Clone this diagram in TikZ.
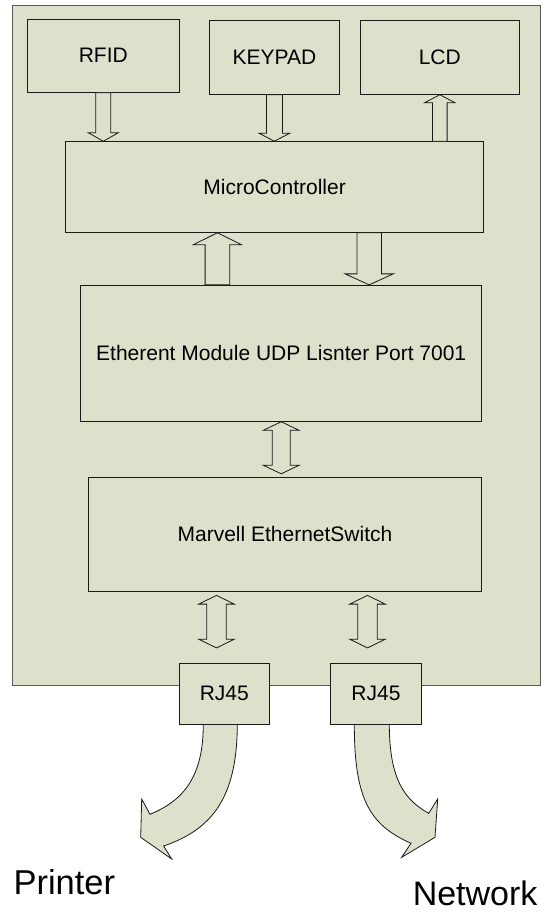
\documentclass[tikz,border=0pt]{standalone}
\usepackage{fontspec}
\setmainfont{Liberation Sans}
\usetikzlibrary{calc}

\definecolor{panel}{RGB}{221,224,203}

\tikzset{
	box/.style={draw=black!90, fill=panel, line width=0.9pt, inner sep=0pt,
		font=\fontsize{21}{25}\selectfont},
	blk/.style={draw=black!90, fill=panel, line width=0.8pt, line join=miter},
	cable/.style={draw=black!90, fill=panel, line width=0.8pt},
}

% 下向き・上向き・両向きの白抜き矢印
\newcommand{\blkdown}[5]{%
	\draw[blk] let \p1=#1, \p2=#2 in
		(\x1-#3,\y1) -- (\x1-#3,\y2+#5) -- (\x1-#4,\y2+#5) -- (\x1,\y2)
		-- (\x1+#4,\y2+#5) -- (\x1+#3,\y2+#5) -- (\x1+#3,\y1) -- cycle;}
\newcommand{\blkup}[5]{%
	\draw[blk] let \p1=#1, \p2=#2 in
		(\x1-#3,\y1) -- (\x1-#3,\y2-#5) -- (\x1-#4,\y2-#5) -- (\x1,\y2)
		-- (\x1+#4,\y2-#5) -- (\x1+#3,\y2-#5) -- (\x1+#3,\y1) -- cycle;}
\newcommand{\blkboth}[5]{%
	\draw[blk] let \p1=#1, \p2=#2 in
		(\x1,\y1) -- (\x1+#4,\y1-#5) -- (\x1+#3,\y1-#5) -- (\x1+#3,\y2+#5)
		-- (\x1+#4,\y2+#5) -- (\x1,\y2) -- (\x1-#4,\y2+#5) -- (\x1-#3,\y2+#5)
		-- (\x1-#3,\y1-#5) -- (\x1-#4,\y1-#5) -- cycle;}

\begin{document}
\begin{tikzpicture}[x=1pt, y=-1pt]
		\useasboundingbox (0,0) rectangle (545,914);
		% 外枠
		\node (board) [draw=black!65, fill=panel, line width=1.3pt,
			minimum width=528, minimum height=680.4] at (276.7,345.5) {};
		% ケーブル(曲がり矢印)
		\path[cable] (203.3,724) .. controls (203.3,775) and (185,800) .. (150,814.3)
			-- (141.7,799) -- (140.7,837.3) -- (171.7,859) -- (163.7,846)
			.. controls (210,830) and (237.3,800) .. (237.3,724) -- cycle;
		\path[cable] (389.3,724) .. controls (389.3,780) and (405,800) .. (428.7,813.3)
			-- (437.7,799) -- (435,837.3) -- (401.7,857.3) -- (411,843.3)
			.. controls (370,825) and (354.3,800) .. (354.3,724) -- cycle;
		% ブロック
		\node (rfid) [box, minimum width=152, minimum height=73.3] at (103.3,55.6) {RFID};
		\node (keypad) [box, minimum width=129.3, minimum height=73.6] at (274.4,57.5) {KEYPAD};
		\node (lcd) [box, minimum width=159, minimum height=73.6] at (439.8,57.5) {LCD};
		\node (mc) [box, minimum width=418, minimum height=90.6] at (274.6,187) {MicroController};
		\node (eth) [box, minimum width=401, minimum height=136] at (281.2,353.3)
			{Etherent Module UDP Lisnter Port 7001};
		\node (sw) [box, minimum width=393.4, minimum height=113.3] at (285,534.3)
			{Marvell EthernetSwitch};
		\node (rja) [box, minimum width=90.7, minimum height=60.7] at (224.3,693.7) {RJ45};
		\node (rjb) [box, minimum width=91.4, minimum height=60.7] at (376,693.7) {RJ45};
		% 接続
		\blkdown{(rfid.south)}{(mc.north)}{7.5pt}{15pt}{8.5pt}
		\blkdown{(keypad.south)}{(mc.north)}{8pt}{15.3pt}{8pt}
		\blkup{(lcd.south |- mc.north)}{(lcd.south)}{7.3pt}{15.3pt}{8pt}
		\blkup{([xshift=-63.8pt]eth.north)}{(mc.south)}{12.3pt}{24.1pt}{12pt}
		\blkdown{([xshift=94.6pt]mc.south)}{(eth.north)}{12.2pt}{24.1pt}{11pt}
		\blkboth{(eth.south)}{($(sw.north)+(0,-3.4)$)}{9pt}{17.8pt}{8.5pt}
		\blkboth{($(rja.north |- sw.south)+(-7.8,4)$)}{($(rja.north)+(0,-15)$)}{9.7pt}{17.8pt}{8.7pt}
		\blkboth{($(rjb.north |- sw.south)+(-8.5,4)$)}{($(rjb.north)+(0,-15)$)}{9.7pt}{17.8pt}{8.7pt}
		% 接続先
		\node (printer) [anchor=base west, font=\fontsize{34.5}{40}\selectfont] at (10,894.5) {Printer};
		\node (network) [anchor=base east, font=\fontsize{34}{40}\selectfont] at (541,905.5) {Network};
	\end{tikzpicture}
\end{document}
